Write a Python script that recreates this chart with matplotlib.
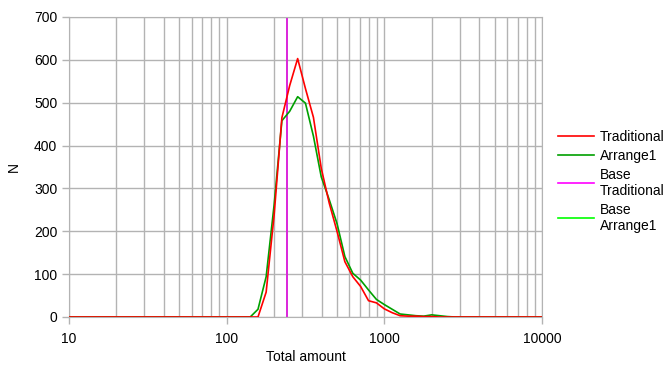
import matplotlib.pyplot as plt
from matplotlib.ticker import FixedLocator, NullFormatter, LogLocator

plt.rcParams['font.family'] = ['Liberation Sans', 'DejaVu Sans']

# bin centres (total amount), log-spaced; zero outside shown range
amount = [10, 100, 141, 158, 178, 200, 224, 251, 282, 316, 355, 398, 447,
          501, 562, 631, 708, 794, 891, 1000, 1122, 1259, 1413, 1585, 1778,
          1995, 2239, 2512, 2818, 10000]
traditional = [0, 0, 0, 0, 58, 238, 465, 540, 603, 533, 466, 347, 266,
               200, 129, 94, 71, 38, 33, 19, 10, 3, 2, 2, 1, 1, 0, 0, 0, 0]
arrange1 = [0, 0, 0, 18, 94, 262, 458, 480, 514, 499, 422, 327, 274,
            218, 141, 102, 86, 63, 41, 29, 18, 7, 5, 3, 2, 5, 3, 1, 0, 0]
base_traditional = 240
base_arrange1 = 240

fig = plt.figure(figsize=(6.7, 3.7), dpi=100)
ax = fig.add_axes([69 / 670, 1 - 317 / 370, 473 / 670, 300 / 370])

grid_col = '#b3b3b3'

ax.plot(amount, arrange1, color='#00a000', lw=1.2, label='Arrange1', zorder=3)
ax.plot(amount, traditional, color='#ff0000', lw=1.2, label='Traditional', zorder=4)
ax.axvline(base_arrange1, color='#00ff00', lw=1.2, label='Base\nArrange1', zorder=2)
ax.axvline(base_traditional, color='#ff00ff', lw=1.2, label='Base\nTraditional', zorder=2.5)

ax.set_xscale('log')
ax.set_xlim(10, 10000)
ax.set_ylim(0, 700)
ax.set_xticks([10, 100, 1000, 10000])
ax.set_xticklabels(['10', '100', '1000', '10000'])
ax.xaxis.set_minor_locator(LogLocator(base=10, subs=range(2, 10)))
ax.xaxis.set_minor_formatter(NullFormatter())
ax.yaxis.set_major_locator(FixedLocator(range(0, 701, 100)))

ax.grid(True, which='both', axis='x', color=grid_col, lw=1)
ax.grid(True, which='major', axis='y', color=grid_col, lw=1)
ax.set_axisbelow(True)
for s in ax.spines.values():
    s.set_color(grid_col)
ax.tick_params(which='both', colors=grid_col, labelcolor='black', labelsize=10,
               length=5, width=1)
ax.tick_params(which='minor', length=0)
ax.tick_params(axis='x', pad=6)

ax.set_xlabel('Total amount', fontsize=10, labelpad=3)
ax.set_ylabel('N', fontsize=10, labelpad=9)

handles, labels = ax.get_legend_handles_labels()
order = [1, 0, 3, 2]
fig.legend([handles[i] for i in order], [labels[i] for i in order],
           loc='center left', bbox_to_anchor=(0.825, 0.51), frameon=False,
           fontsize=10, handlelength=2.6, handletextpad=0.4,
           labelspacing=0.35, borderaxespad=0)

fig.savefig('out.png', dpi=100)
